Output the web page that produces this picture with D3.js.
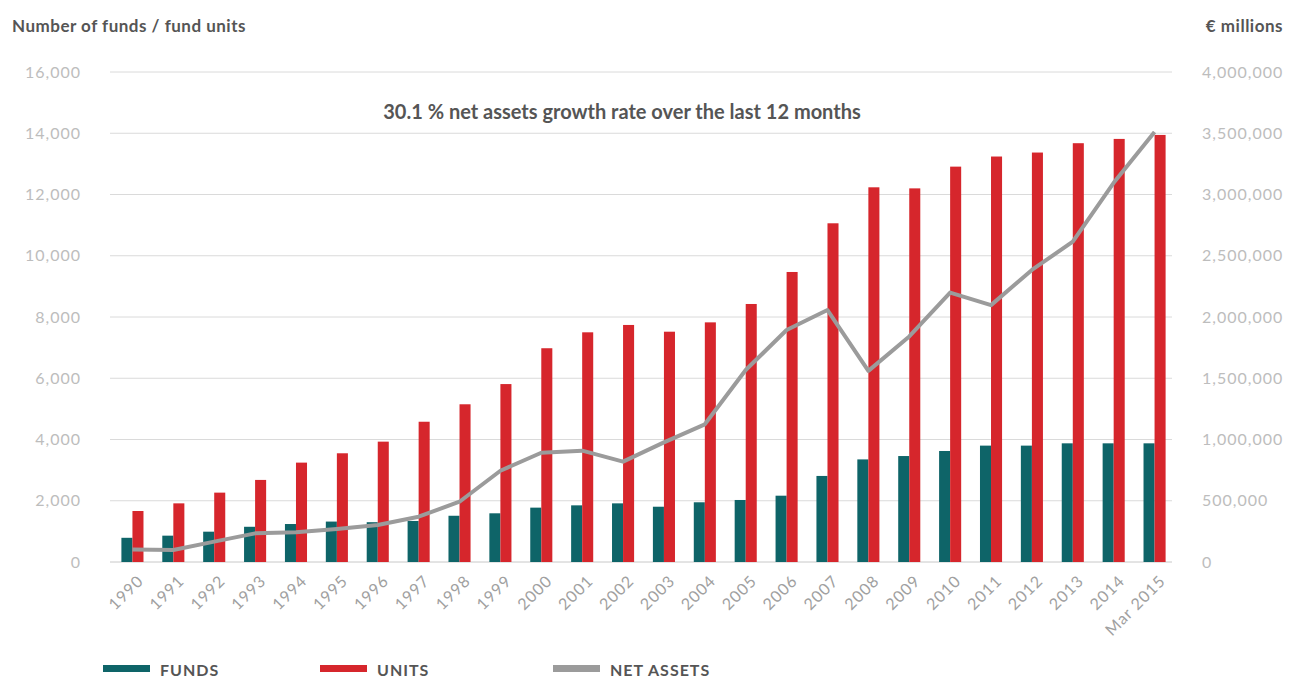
<!DOCTYPE html>
<html><head><meta charset="utf-8">
<script src="https://cdn.jsdelivr.net/npm/d3@7"></script>
<style>
body{margin:0;background:#fff;}
text{font-family:Lato,"Open Sans",sans-serif;}
</style></head>
<body>
<svg id="chart" width="1291" height="679"></svg>
<script>
const categories = ["1990","1991","1992","1993","1994","1995","1996","1997","1998","1999","2000","2001","2002","2003","2004","2005","2006","2007","2008","2009","2010","2011","2012","2013","2014","Mar 2015"];
const funds = [790,860,990,1150,1240,1320,1300,1340,1510,1590,1775,1850,1915,1805,1950,2025,2165,2810,3350,3460,3625,3800,3800,3875,3875,3875];
const units = [1665,1915,2265,2680,3245,3550,3930,4580,5150,5810,6980,7500,7740,7520,7825,8425,9470,11060,12235,12200,12910,13240,13370,13675,13815,13945];
const netAssets = [103000,98000,166000,234000,242000,269000,302000,370000,492000,745000,892000,909000,819000,977000,1124000,1567000,1894000,2057000,1560000,1841000,2199000,2097000,2384000,2615000,3095000,3510000];
const leftTicks = [0,2000,4000,6000,8000,10000,12000,14000,16000];
const rightTicks = [0,500000,1000000,1500000,2000000,2500000,3000000,3500000,4000000];
const legendItems = [["FUNDS","#0e6468"],["UNITS","#d6262c"],["NET ASSETS","#9b9b9b"]];

const svg = d3.select("#chart");
const m = {left:112, right:1175, top:72, bottom:562};
const x = d3.scaleBand().domain(categories).range([m.left, m.right]).paddingInner(0.46).paddingOuter(0.23);
const yL = d3.scaleLinear().domain([0,16000]).range([m.bottom, m.top]);
const yR = d3.scaleLinear().domain([0,4000000]).range([m.bottom, m.top]);
const fmt = d3.format(",");

// gridlines
svg.append("g").selectAll("line").data(leftTicks).join("line")
  .attr("x1",110).attr("x2",1172)
  .attr("y1",d=>yL(d)).attr("y2",d=>yL(d))
  .attr("stroke",d=>d===0?"#c8c8c8":"#dadada").attr("stroke-width",1);

// left axis
const gL = svg.append("g").attr("transform",`translate(81,0)`)
  .call(d3.axisLeft(yL).tickValues(leftTicks).tickFormat(fmt).tickSize(0).tickPadding(0));
gL.select(".domain").remove();
gL.selectAll("text").attr("fill","#bdbdbd").style("font-size","16px").style("letter-spacing","1px").style("font-family","Lato,sans-serif");

// right axis
const gR = svg.append("g").attr("transform",`translate(1202,0)`)
  .call(d3.axisRight(yR).tickValues(rightTicks).tickFormat(fmt).tickSize(0).tickPadding(0));
gR.select(".domain").remove();
gR.selectAll("text").attr("fill","#bdbdbd").style("font-size","16px").style("letter-spacing","1px").style("font-family","Lato,sans-serif");

const bw = x.bandwidth()/2;
svg.append("g").selectAll("rect").data(categories).join("rect")
  .attr("x",d=>x(d)).attr("width",bw)
  .attr("y",(d,i)=>yL(funds[i])).attr("height",(d,i)=>yL(0)-yL(funds[i]))
  .attr("fill","#0e6468");
svg.append("g").selectAll("rect").data(categories).join("rect")
  .attr("x",d=>x(d)+bw).attr("width",bw)
  .attr("y",(d,i)=>yL(units[i])).attr("height",(d,i)=>yL(0)-yL(units[i]))
  .attr("fill","#d6262c");

// line
const line = d3.line().x((d,i)=>x(categories[i])+x.bandwidth()/2).y(d=>yR(d));
svg.append("path").datum(netAssets).attr("d",line)
  .attr("fill","none").attr("stroke","#9b9b9b").attr("stroke-width",4).attr("stroke-linejoin","round");

// x labels
const gX = svg.append("g").attr("transform",`translate(0,${m.bottom})`)
  .call(d3.axisBottom(x).tickSize(0).tickPadding(0));
gX.select(".domain").remove();
gX.selectAll("text")
  .attr("fill","#a0a0a0").style("font-size","16px").style("letter-spacing","1px").style("font-family","Lato,sans-serif")
  .attr("text-anchor","end").attr("dy","0")
  .attr("transform","translate(12,20) rotate(-45)");

// headers
svg.append("text").attr("x",12).attr("y",32).text("Number of funds / fund units")
  .attr("fill","#555").style("font-size","17px").style("font-weight","bold").style("letter-spacing","0.5px");
svg.append("text").attr("x",1283).attr("y",32).attr("text-anchor","end").text("€ millions")
  .attr("fill","#555").style("font-size","17px").style("font-weight","bold").style("letter-spacing","0.5px");
svg.append("text").attr("x",622).attr("y",119).attr("text-anchor","middle")
  .text("30.1 % net assets growth rate over the last 12 months")
  .attr("fill","#555").style("font-size","20px").style("font-weight","bold");

// legend
const lx = [103,320,553];
const lg = svg.append("g");
legendItems.forEach((it,i)=>{
  lg.append("rect").attr("x",lx[i]).attr("y",665).attr("width",47).attr("height",7).attr("fill",it[1]);
  lg.append("text").attr("x",lx[i]+57).attr("y",676).text(it[0])
    .attr("fill","#555").style("font-size","16px").style("font-weight","bold").style("letter-spacing","1px");
});
</script>
</body></html>
